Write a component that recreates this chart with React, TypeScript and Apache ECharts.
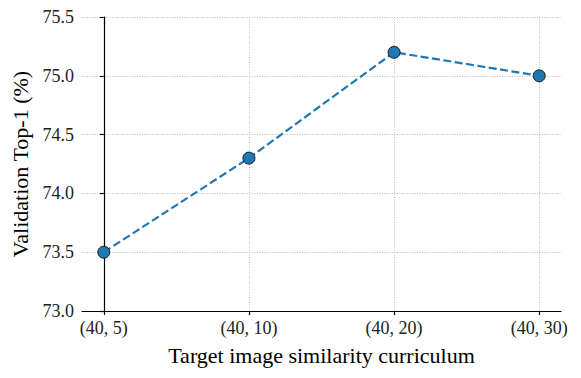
import React, { useEffect, useRef } from "react";
import * as echarts from "echarts";

const categories = ["(40, 5)", "(40, 10)", "(40, 20)", "(40, 30)"];
const values = [73.5, 74.3, 75.2, 75.0];
const yMin = 73.0;
const yMax = 75.5;
const yStep = 0.5;

const FONT = "'Liberation Serif', 'DejaVu Serif', serif";

export default function App() {
  const ref = useRef<HTMLDivElement>(null);
  useEffect(() => {
    if (!ref.current) return;
    const chart = echarts.init(ref.current, undefined, { renderer: "svg" });
    const L = 82, R = 20, T = 17, B = 67;
    const pad = 0.15;
    const W = 581 - L - R;
    const unit = W / (categories.length - 1 + 2 * pad);
    const gridLine = { show: true, lineStyle: { color: "#b0b0b0", type: [1, 1.5], width: 0.8 } };
    const txt = (size: number, color: string) => ({ fontFamily: FONT, fontSize: size, color, fontWeight: "normal" });
    chart.setOption({
      animation: false,
      textStyle: { fontFamily: FONT },
      grid: [
        { left: L, right: R, top: T, bottom: B },
        { left: L + pad * unit, right: R + pad * unit, top: T, bottom: B },
      ],
      xAxis: [
        {
          gridIndex: 0,
          type: "value",
          min: -pad,
          max: categories.length - 1 + pad,
          axisLine: { show: true, onZero: false, lineStyle: { color: "#000", width: 1.2 } },
          axisTick: { show: false },
          axisLabel: { show: false },
          splitLine: { show: false },
          name: "Target image similarity curriculum",
          nameLocation: "middle",
          nameGap: 33,
          nameTextStyle: txt(22, "#000"),
        },
        {
          gridIndex: 1,
          type: "category",
          data: categories,
          boundaryGap: false,
          axisLine: { show: false },
          axisTick: { show: true, length: 4, lineStyle: { color: "#000", width: 1.2 } },
          axisLabel: { ...txt(18, "#222"), margin: 8 },
          splitLine: gridLine,
        },
      ],
      yAxis: [
        {
          gridIndex: 0,
          type: "value",
          min: yMin,
          max: yMax,
          interval: yStep,
          axisLine: { show: true, lineStyle: { color: "#000", width: 1.2 } },
          axisTick: { show: true, length: 4, lineStyle: { color: "#000", width: 1.2 } },
          axisLabel: {
            ...txt(18, "#222"),
            margin: 8,
            formatter: (v: number) => v.toFixed(1),
          },
          splitLine: gridLine,
          name: "Validation Top-1 (%)",
          nameLocation: "middle",
          nameGap: 49,
          nameTextStyle: txt(22, "#000"),
        },
        {
          gridIndex: 1,
          type: "value",
          min: yMin,
          max: yMax,
          show: false,
          splitLine: { show: false },
        },
      ],
      series: [
        {
          type: "line",
          xAxisIndex: 1,
          yAxisIndex: 1,
          data: values,
          symbol: "circle",
          symbolSize: 12,
          lineStyle: { color: "#1f77b4", width: 2.2, type: [8, 3.5] },
          itemStyle: { color: "#1f77b4", borderColor: "#1a1a1a", borderWidth: 1 },
          z: 5,
        },
      ],
    });
    return () => chart.dispose();
  }, []);
  return <div ref={ref} style={{ width: 581, height: 378, position: "absolute", left: 0, top: 0 }} />;
}
